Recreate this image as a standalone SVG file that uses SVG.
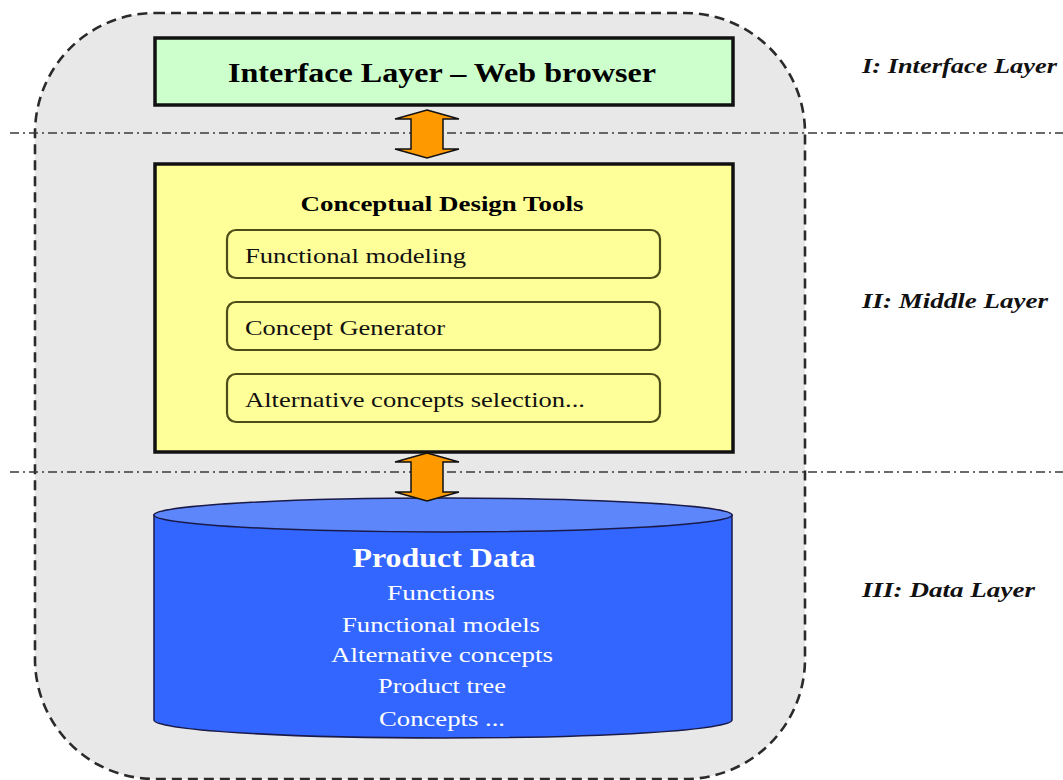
<svg xmlns="http://www.w3.org/2000/svg" width="1063" height="780" viewBox="0 0 1063 780">
  <style>
    .serif { font-family: "Liberation Serif", "Times New Roman", serif; }
    .frame { fill: #e8e8e8; stroke: #2a2a2a; stroke-width: 2.6; stroke-dasharray: 10 6; }
    .divider { fill: none; stroke: #3a3a3a; stroke-width: 1.7; stroke-dasharray: 9 4 2 4; }
    .box { stroke: #111; stroke-width: 3.5; }
    .tool { fill: #ffff99; stroke: #4d4d1a; stroke-width: 2.2; }
    .toolText { font-size: 21px; fill: #111; }
    .dataText { font-size: 22px; fill: #ffffff; text-anchor: middle; }
    .layerLabel { font-size: 22px; font-weight: bold; font-style: italic; fill: #111; }
    .flow { fill: #ff9900; stroke: #111; stroke-width: 1.5; stroke-linejoin: miter; }
  </style>

  <!-- outer system boundary -->
  <rect class="frame" x="35" y="13" width="770" height="766" rx="120" ry="120"/>

  <!-- layer separators -->
  <line class="divider" x1="10" y1="133" x2="1063" y2="133"/>
  <line class="divider" x1="10" y1="472" x2="1063" y2="472"/>

  <!-- Interface layer -->
  <g id="interface-layer">
    <rect class="box" x="155" y="38" width="578" height="67" fill="#ccffcc"/>
    <text class="serif" x="442" y="82" font-size="27" font-weight="bold" text-anchor="middle" textLength="428" lengthAdjust="spacingAndGlyphs">Interface Layer – Web browser</text>
  </g>

  <!-- Middle layer: design tools -->
  <g id="design-tools">
    <rect class="box" x="155" y="164" width="578" height="288" fill="#ffff99"/>
    <text class="serif" x="442" y="211" font-size="21" font-weight="bold" text-anchor="middle" textLength="283" lengthAdjust="spacingAndGlyphs">Conceptual Design Tools</text>
  </g>
  <g id="functional-modeling">
    <rect class="tool" x="227" y="230" width="433" height="48" rx="9"/>
    <text class="serif toolText" x="245" y="263" textLength="221" lengthAdjust="spacingAndGlyphs">Functional modeling</text>
  </g>
  <g id="concept-generator">
    <rect class="tool" x="227" y="302" width="433" height="48" rx="9"/>
    <text class="serif toolText" x="245" y="335" textLength="200" lengthAdjust="spacingAndGlyphs">Concept Generator</text>
  </g>
  <g id="concept-selection">
    <rect class="tool" x="227" y="374" width="433" height="48" rx="9"/>
    <text class="serif toolText" x="245" y="407" textLength="340" lengthAdjust="spacingAndGlyphs">Alternative concepts selection...</text>
  </g>

  <!-- Data layer: product data store -->
  <g id="product-data">
    <path d="M154 515 L154 720 A289 18 0 0 0 732 720 L732 515 Z" fill="#3366ff" stroke="#1a1a4a" stroke-width="1.5"/>
    <ellipse cx="443" cy="515" rx="289" ry="17" fill="#5c86fa" stroke="#1a1a4a" stroke-width="1.5"/>
    <text class="serif" x="444" y="567" font-size="28" font-weight="bold" fill="#fff" text-anchor="middle" textLength="183" lengthAdjust="spacingAndGlyphs">Product Data</text>
    <text class="serif dataText" x="441" y="600" textLength="108" lengthAdjust="spacingAndGlyphs">Functions</text>
    <text class="serif dataText" x="441" y="632" textLength="198" lengthAdjust="spacingAndGlyphs">Functional models</text>
    <text class="serif dataText" x="442" y="662" textLength="222" lengthAdjust="spacingAndGlyphs">Alternative concepts</text>
    <text class="serif dataText" x="442" y="693" textLength="128" lengthAdjust="spacingAndGlyphs">Product tree</text>
    <text class="serif dataText" x="442" y="726" textLength="126" lengthAdjust="spacingAndGlyphs">Concepts ...</text>
  </g>

  <!-- layer captions -->
  <g id="layer-captions">
    <text class="serif layerLabel" x="862" y="73" textLength="195" lengthAdjust="spacingAndGlyphs">I: Interface Layer</text>
    <text class="serif layerLabel" x="862" y="308" textLength="186" lengthAdjust="spacingAndGlyphs">II: Middle Layer</text>
    <text class="serif layerLabel" x="862" y="597" textLength="173" lengthAdjust="spacingAndGlyphs">III: Data Layer</text>
  </g>

  <!-- two-way links between layers -->
  <g id="connectors">
    <path class="flow" d="M427 110 L459 119 L443 119 L443 149 L459 149 L427 158 L395 149 L411 149 L411 119 L395 119 Z"/>
    <path class="flow" d="M427 453 L459 462 L443 462 L443 492 L459 492 L427 501 L395 492 L411 492 L411 462 L395 462 Z"/>
  </g>
</svg>
